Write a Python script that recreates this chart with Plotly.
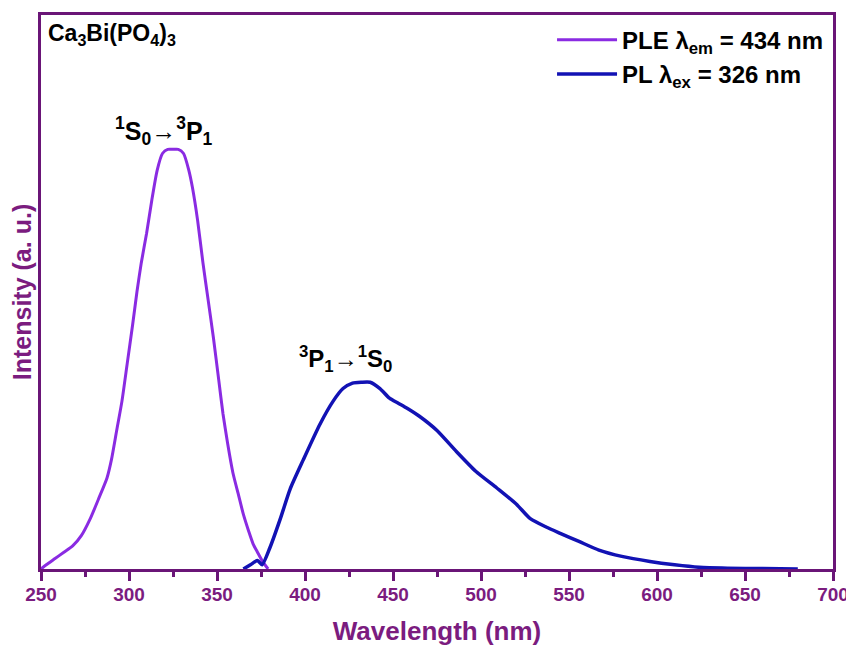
import plotly.graph_objects as go

# PLE (excitation) spectrum, emission monitored at 434 nm
ple_wavelength = [250, 253, 258, 263, 268, 273, 278, 283, 287.5, 290, 293, 296, 299, 302, 304.5, 307, 310, 313, 316, 319, 322, 325, 328, 331, 334, 336, 339, 342, 345, 348, 351, 353.4, 356, 359, 362, 365, 368, 370.5, 373, 375.6, 379]
ple_intensity = [0.0, 0.01, 0.025, 0.04, 0.055, 0.08, 0.12, 0.17, 0.217, 0.26, 0.33, 0.40, 0.49, 0.58, 0.66, 0.73, 0.80, 0.88, 0.95, 0.99, 1.0, 1.0, 1.0, 0.99, 0.95, 0.91, 0.83, 0.73, 0.64, 0.55, 0.45, 0.37, 0.30, 0.23, 0.18, 0.13, 0.09, 0.06, 0.04, 0.02, 0.0]

# PL (emission) spectrum, excited at 326 nm
pl_wavelength = [365, 369, 373, 375.6, 380, 386, 391.5, 399, 408.5, 416, 421.6, 427, 432, 437, 442.6, 448, 453, 458, 465, 475, 486, 497, 509, 520, 528, 537, 545, 556, 567, 580, 596, 610, 624, 640, 660, 680]
pl_intensity = [0.0, 0.01, 0.02, 0.01, 0.05, 0.12, 0.19, 0.26, 0.345, 0.40, 0.43, 0.443, 0.445, 0.445, 0.43, 0.407, 0.395, 0.383, 0.364, 0.33, 0.28, 0.233, 0.193, 0.155, 0.12, 0.10, 0.085, 0.065, 0.045, 0.03, 0.018, 0.01, 0.004, 0.002, 0.001, 0.0]

x_tick_values = [250, 300, 350, 400, 450, 500, 550, 600, 650, 700]
x_tick_labels = ["<b>%d</b>" % v for v in x_tick_values]

frame_color = "#6a1577"
text_purple = "#7b1c7f"
ple_color = "#8a2be2"
pl_color = "#1212b4"
font_main = "Liberation Sans, Arial, sans-serif"

fig = go.Figure()
fig.add_trace(go.Scatter(
    x=ple_wavelength, y=ple_intensity, mode="lines",
    line=dict(color=ple_color, width=3, shape="spline", smoothing=0.6),
    name="<b>PLE λ<sub>em</sub> = 434 nm</b>",
))
fig.add_trace(go.Scatter(
    x=pl_wavelength, y=pl_intensity, mode="lines",
    line=dict(color=pl_color, width=3.5, shape="spline", smoothing=0.6),
    name="<b>PL λ<sub>ex</sub> = 326 nm</b>",
))

fig.add_annotation(x=320, y=0.995, xref="x", yref="y", yanchor="bottom",
                   text="<b><sup>1</sup>S<sub>0</sub>→<sup>3</sup>P<sub>1</sub></b>",
                   showarrow=False, font=dict(family=font_main, size=25, color="black"))
fig.add_annotation(x=423, y=0.455, xref="x", yref="y", yanchor="bottom",
                   text="<b><sup>3</sup>P<sub>1</sub>→<sup>1</sup>S<sub>0</sub></b>",
                   showarrow=False, font=dict(family=font_main, size=24, color="black"))
fig.add_annotation(x=0.006, y=0.995, xref="paper", yref="paper", xanchor="left", yanchor="top",
                   text="<b>Ca<sub>3</sub>Bi(PO<sub>4</sub>)<sub>3</sub></b>",
                   showarrow=False, font=dict(family=font_main, size=23, color="black"))

fig.update_layout(
    width=854, height=648,
    margin=dict(l=33, r=29, t=7, b=87),
    paper_bgcolor="white", plot_bgcolor="white",
    showlegend=True,
    legend=dict(x=0.995, y=0.995, xanchor="right", yanchor="top",
                bgcolor="rgba(0,0,0,0)", font=dict(family=font_main, size=24, color="black"),
                tracegroupgap=0, itemwidth=60),
)
fig.update_xaxes(
    range=[250, 700], tickmode="array", tickvals=x_tick_values, ticktext=x_tick_labels,
    automargin=False,
    showline=True, linecolor=frame_color, linewidth=3, mirror=True,
    ticks="outside", ticklen=9, tickwidth=3, tickcolor=frame_color,
    minor=dict(dtick=25, ticks="outside", ticklen=5, tickwidth=3, tickcolor=frame_color),
    showgrid=False, zeroline=False,
    ticklabelstandoff=-3,
    tickfont=dict(family=font_main, size=19, color=text_purple),
    title=dict(text="<b>Wavelength (nm)</b>", font=dict(family=font_main, size=26, color=text_purple), standoff=19),
)
fig.update_yaxes(
    range=[0, 1.32], showticklabels=False, ticks="",
    automargin=False,
    showline=True, linecolor=frame_color, linewidth=3, mirror=True,
    showgrid=False, zeroline=False,
    title=dict(text="<b>Intensity (a. u.)</b>", font=dict(family=font_main, size=25, color=text_purple), standoff=6),
)

fig.write_html("out.html")
